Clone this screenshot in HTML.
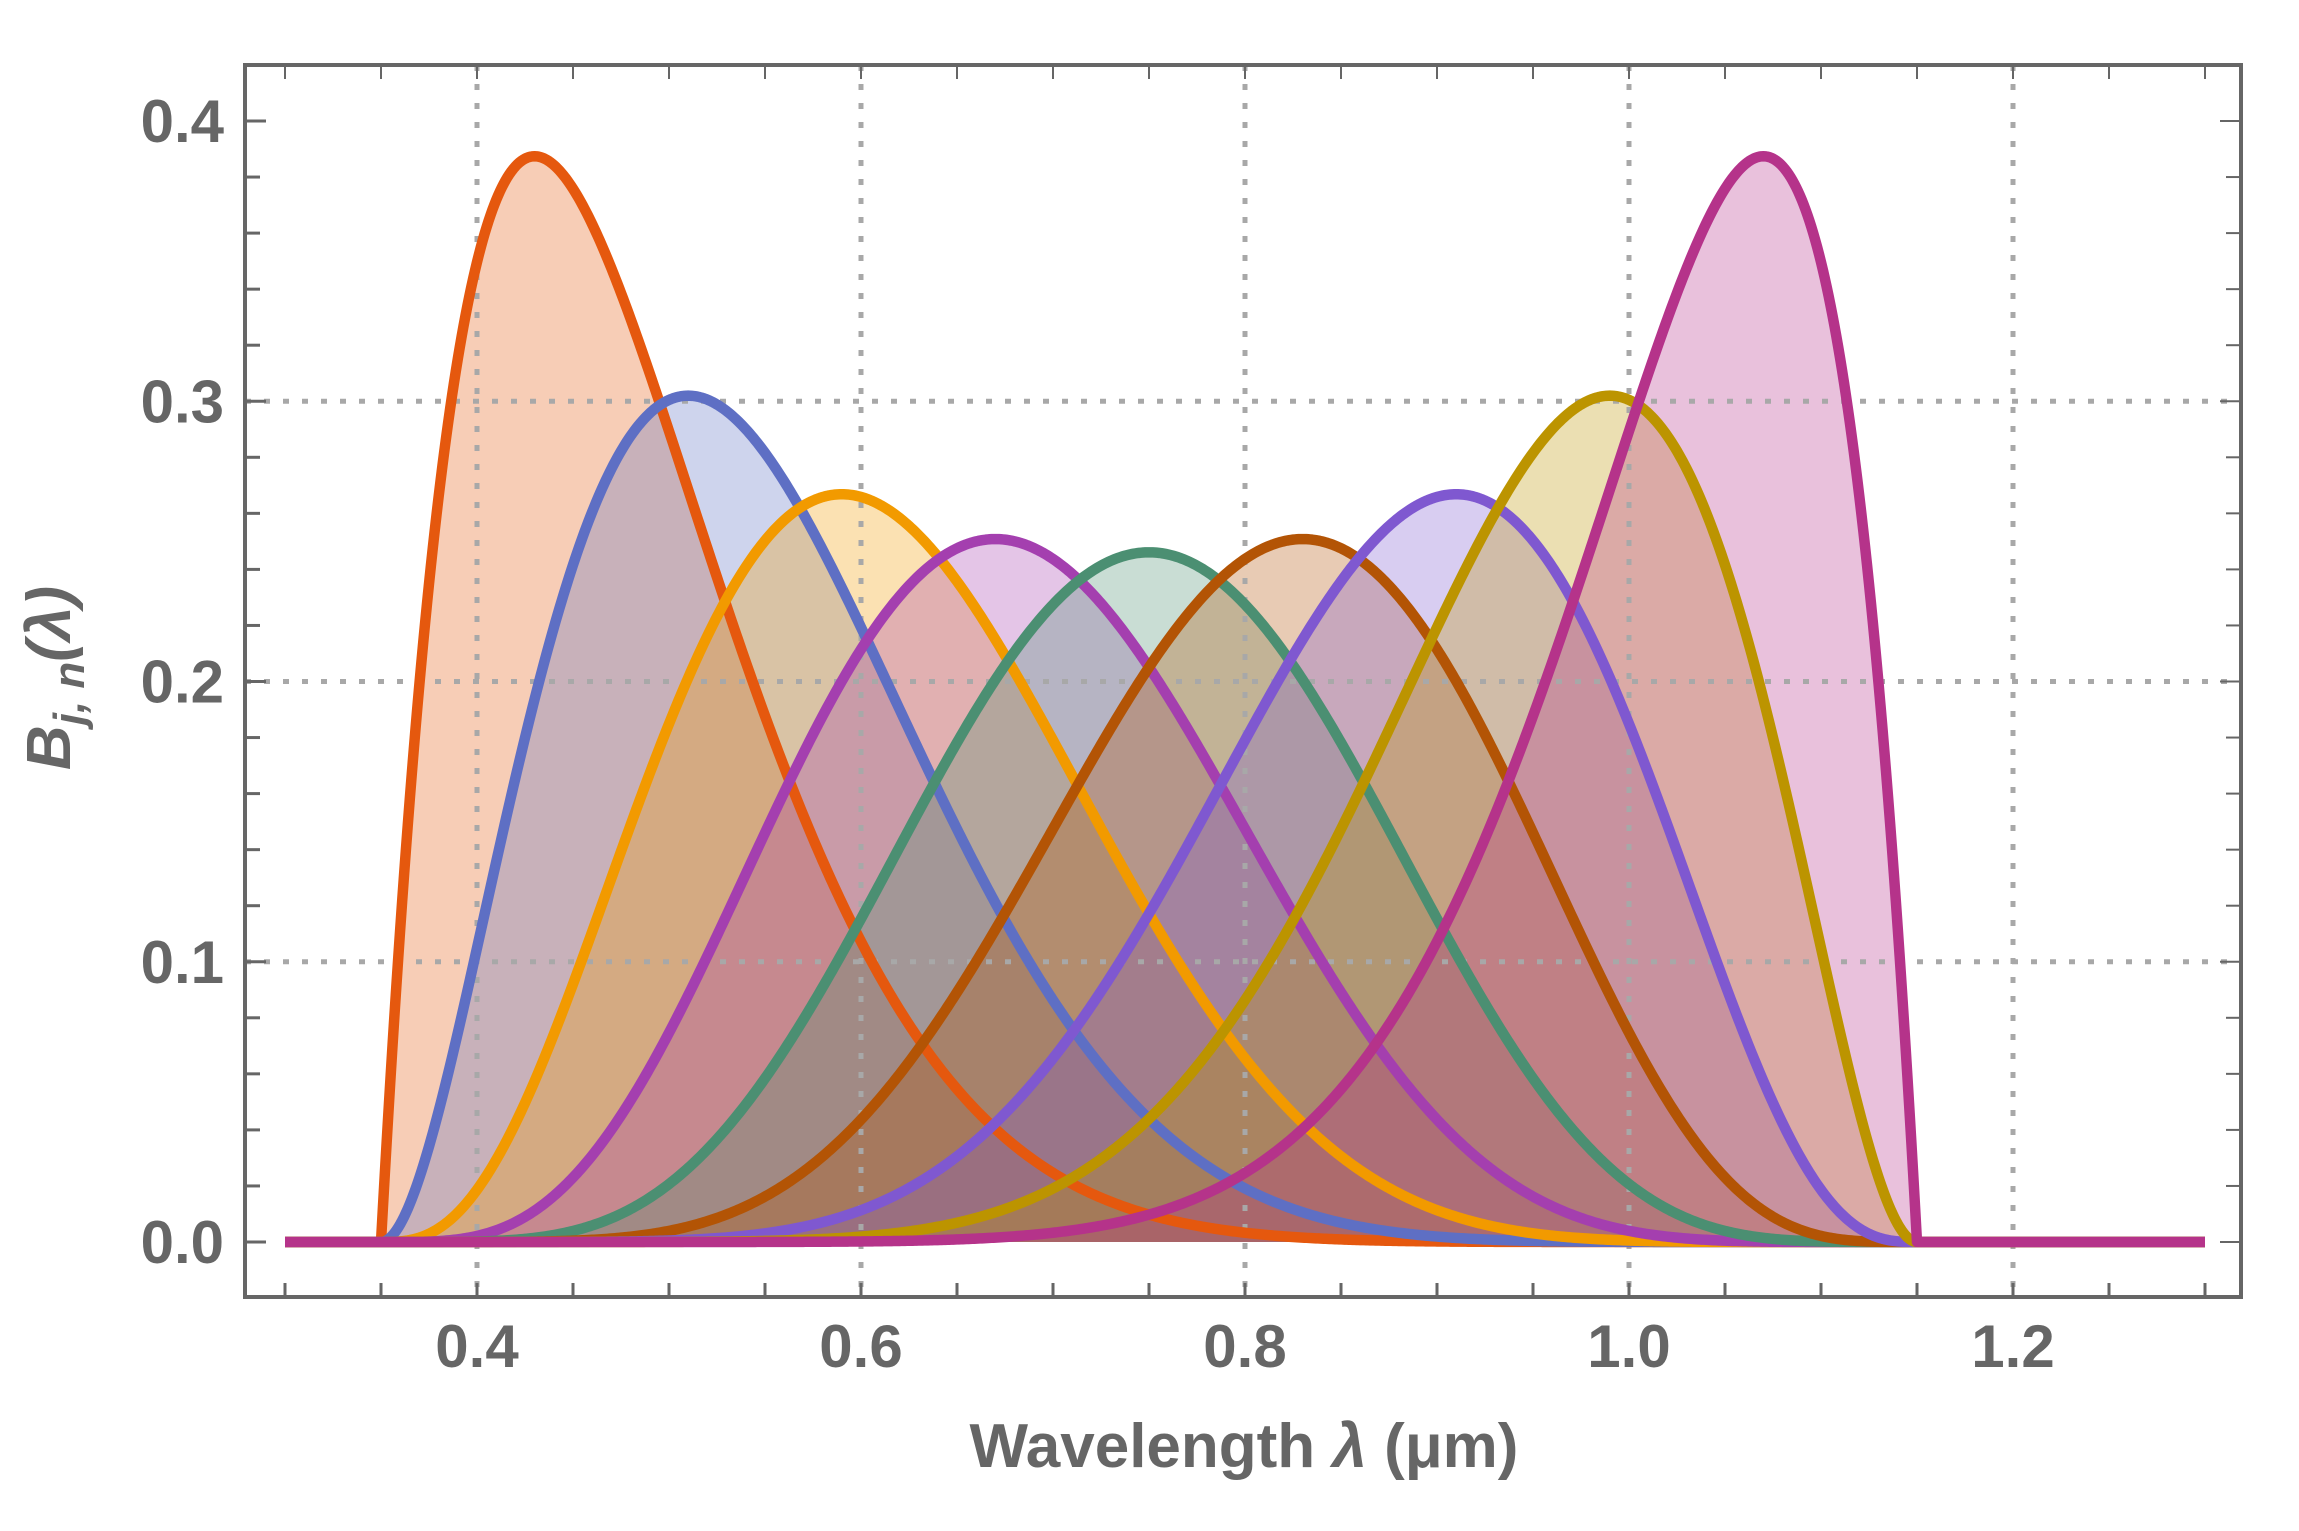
<!DOCTYPE html>
<html><head><meta charset="utf-8"><style>
html,body{margin:0;padding:0;background:#fff;}
svg{display:block;}
text{font-family:"Liberation Sans",sans-serif;font-weight:bold;fill:#666;}
</style></head><body>
<svg id="s" width="2299" height="1531" viewBox="0 0 2299 1531" xmlns="http://www.w3.org/2000/svg">
<g id="fills"></g>
<g id="grid" stroke="#a8a8a8" stroke-width="5" stroke-dasharray="6 13" fill="none"></g>
<g id="lines" fill="none" stroke-width="10.5" stroke-linejoin="round"></g>
<g id="axes" stroke="#666" fill="none"></g>
<g id="labels" font-size="60"></g>
<text x="1244" y="1467" font-size="62" text-anchor="middle">Wavelength <tspan font-style="italic">λ</tspan> (μm)</text>
<text transform="translate(70,678) rotate(-90)" font-size="62" text-anchor="middle" font-style="italic">B<tspan font-size="44" dy="14">j, n</tspan><tspan dy="-14">(λ)</tspan></text>
</svg>
<script>
var NS="http://www.w3.org/2000/svg";
function X(v){return 285+(v-0.3)*1920;}
function Y(v){return 1242-v*2802.5;}
function el(p,tag,a){var e=document.createElementNS(NS,tag);for(var k in a)e.setAttribute(k,a[k]);document.getElementById(p).appendChild(e);return e;}
var cols=["#e5580e","#5e6fc4","#f29a00","#a43faf","#4b8f72","#b35405","#7f58d0","#bc9400","#b5338a"];
function binom(n,k){var r=1;for(var i=1;i<=k;i++)r=r*(n-k+i)/i;return r;}
function B(j,t){if(t<0||t>1)return 0;return binom(10,j)*Math.pow(t,j)*Math.pow(1-t,10-j);}
for(var j=1;j<=9;j++){
  var pts=[];
  for(var i=0;i<=800;i++){var l=0.35+0.8*i/800;pts.push(X(l).toFixed(2)+","+Y(B(j,(l-0.35)/0.8)).toFixed(2));}
  el("fills","path",{d:"M"+pts.join(" L")+" Z",fill:cols[j-1],"fill-opacity":"0.3",stroke:"none"});
  var lp=[X(0.3)+","+Y(0)].concat(pts).concat([X(1.3)+","+Y(0)]);
  el("lines","path",{d:"M"+lp.join(" L"),stroke:cols[j-1]});
}
[0.4,0.6,0.8,1.0,1.2].forEach(function(v){el("grid","line",{x1:X(v),x2:X(v),y1:65,y2:1297});});
[0.1,0.2,0.3].forEach(function(v){el("grid","line",{x1:245,x2:2241,y1:Y(v),y2:Y(v)});});
el("axes","rect",{x:245,y:65,width:1996,height:1232,"stroke-width":"4"});
for(var k=0;k<=20;k++){var v=0.3+0.05*k;var x=X(v);
  el("axes","line",{x1:x,x2:x,y1:1297,y2:1283,"stroke-width":"3"});
  el("axes","line",{x1:x,x2:x,y1:65,y2:79,"stroke-width":"2"});}
for(var k=-1;k<=21;k++){var v=0.02*k;var y=Y(v);if(y<66||y>1296)continue;var maj=(k%5==0);
  el("axes","line",{x1:245,x2:245+(maj?21:15),y1:y,y2:y,"stroke-width":"3"});
  el("axes","line",{x1:2241,x2:2241-(maj?21:15),y1:y,y2:y,"stroke-width":"2"});}
["0.4","0.6","0.8","1.0","1.2"].forEach(function(s){var t=el("labels","text",{x:X(parseFloat(s)),y:1367,"text-anchor":"middle"});t.textContent=s;});
["0.0","0.1","0.2","0.3","0.4"].forEach(function(s){var t=el("labels","text",{x:224,y:Y(parseFloat(s))+21,"text-anchor":"end"});t.textContent=s;});
</script>
</body></html>
